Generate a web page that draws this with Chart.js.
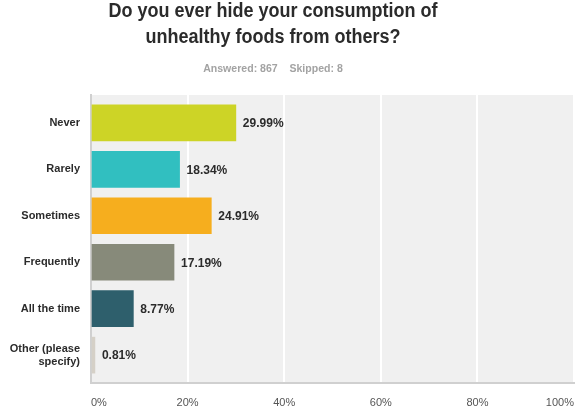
<!DOCTYPE html>
<html><head><meta charset="utf-8">
<script src="https://cdn.jsdelivr.net/npm/chart.js@4/dist/chart.umd.min.js"></script>
<style>html,body{margin:0;padding:0;background:#fff}#wrap{width:580px;height:408px}</style>
</head><body><div id="wrap"><canvas id="c"></canvas></div>
<script>
const categories = ["Never", "Rarely", "Sometimes", "Frequently", "All the time", ["Other (please", "specify)"]];
const values = [29.99, 18.34, 24.91, 17.19, 8.77, 0.81];
const barColors = ["#cdd426", "#31bfc0", "#f6ae1e", "#878a7a", "#2e5f6c", "#d5d0c7"];
const xTicks = [0, 20, 40, 60, 80, 100];
const titleLines = ["Do you ever hide your consumption of", "unhealthy foods from others?"];
const subtitleText = "Answered: 867    Skipped: 8";

const FONT = 'Arial, "Liberation Sans", sans-serif';

const headPlugin = {
  id: 'head',
  afterDraw(chart) {
    const {ctx} = chart;
    const cx = 273;
    function drawScaled(text, y, font, color, sx) {
      ctx.save();
      ctx.font = font; ctx.fillStyle = color;
      ctx.textAlign = 'center'; ctx.textBaseline = 'alphabetic';
      ctx.translate(cx, y); ctx.scale(sx, 1);
      ctx.fillText(text, 0, 0);
      ctx.restore();
    }
    drawScaled(titleLines[0], 17, 'bold 20px ' + FONT, '#2b2b2b', 0.9);
    drawScaled(titleLines[1], 43, 'bold 20px ' + FONT, '#2b2b2b', 0.9);
    drawScaled(subtitleText, 72, 'bold 11px ' + FONT, '#a3a3a3', 0.96);
  }
};
const bgPlugin = {
  id: 'bg',
  beforeDraw(chart) {
    const {ctx, chartArea: a} = chart;
    ctx.save(); ctx.fillStyle = '#f0f0f0';
    ctx.fillRect(a.left, a.top, a.right - a.left, a.bottom - a.top);
    ctx.restore();
  }
};
const labelPlugin = {
  id: 'vals',
  afterDatasetsDraw(chart) {
    const {ctx} = chart;
    const meta = chart.getDatasetMeta(0);
    ctx.save();
    ctx.font = 'bold 12px ' + FONT;
    ctx.fillStyle = '#2b2b2b';
    ctx.textBaseline = 'middle';
    ctx.textAlign = 'left';
    meta.data.forEach((bar, i) => {
      ctx.fillText(values[i].toFixed(2) + '%', bar.x + 7, bar.y + 1);
    });
    ctx.restore();
  }
};

new Chart(document.getElementById('c'), {
  type: 'bar',
  data: {
    labels: categories.map((_, i) => i),
    datasets: [{
      data: values,
      backgroundColor: barColors,
      borderWidth: 0,
      barThickness: 36
    }]
  },
  options: {
    indexAxis: 'y',
    responsive: true,
    maintainAspectRatio: false,
    animation: false,
    layout: {padding: {left: 0, right: 6, top: 95, bottom: 0}},
    plugins: {
      legend: {display: false},
      tooltip: {enabled: false},
      title: {display: false},
      subtitle: {display: false}
    },
    scales: {
      x: {
        min: 0, max: 100,
        afterBuildTicks(scale) { scale.ticks = xTicks.map(v => ({value: v})); },
        afterFit(scale) { scale.height = 25; scale.paddingLeft = 0; scale.paddingRight = 0; },
        ticks: {
          callback: v => v + '%', color: '#555', padding: 13, align: 'inner', maxRotation: 0,
          font: {family: FONT, size: 11}
        },
        grid: {color: '#ffffff', lineWidth: 2, drawTicks: false},
        border: {display: true, color: '#d0d0d0', width: 2}
      },
      y: {
        type: 'linear',
        reverse: true,
        offset: false,
        min: -0.6, max: 5.6,
        afterBuildTicks(scale) { scale.ticks = categories.map((_, i) => ({value: i})); },
        afterFit(scale) { scale.width = 91; },
        ticks: {
          callback: v => categories[v],
          color: '#2b2b2b', padding: 11,
          font: {family: FONT, size: 11, weight: 'bold'}
        },
        grid: {display: false, drawTicks: false, offset: false},
        border: {display: true, color: '#d0d0d0', width: 2}
      }
    }
  },
  plugins: [bgPlugin, labelPlugin, headPlugin]
});
</script></body></html>
